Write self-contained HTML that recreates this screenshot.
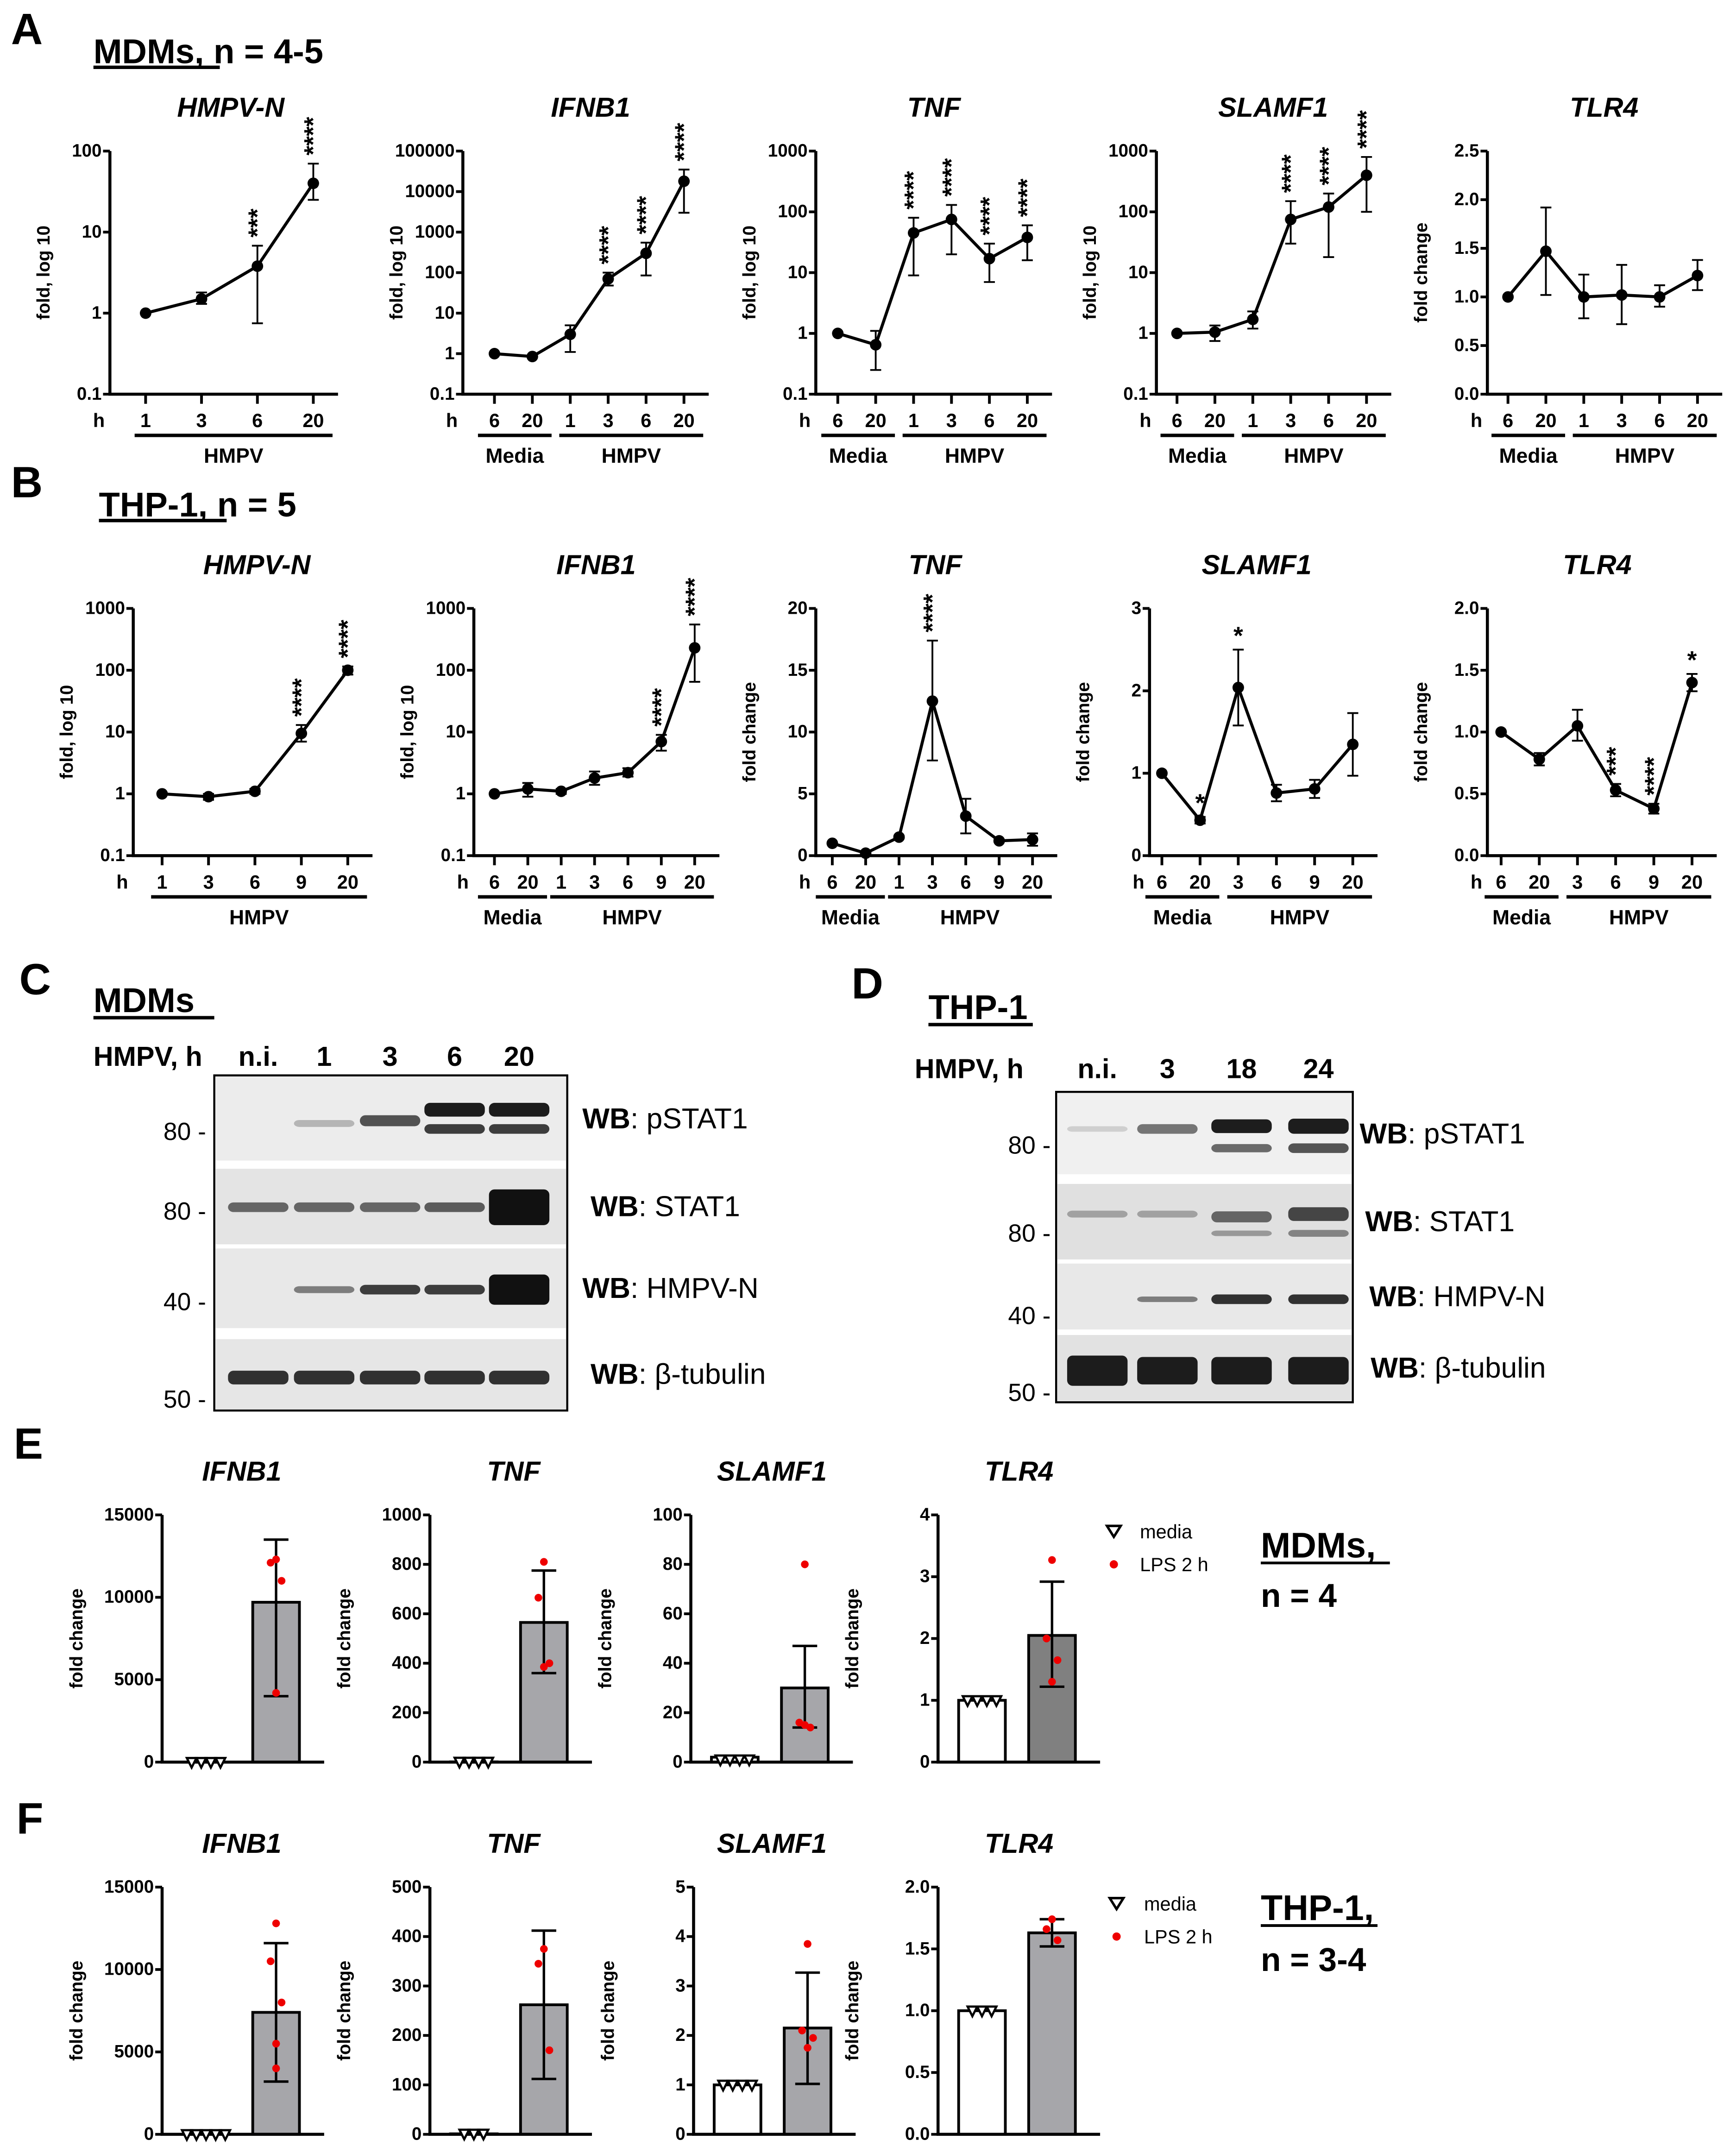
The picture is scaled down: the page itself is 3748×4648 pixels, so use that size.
<!DOCTYPE html>
<html><head><meta charset="utf-8"><style>
html,body{margin:0;padding:0;background:#fff}
svg{display:block}
text{font-family:"Liberation Sans",sans-serif}
</style></head><body>
<svg id="fig" xmlns="http://www.w3.org/2000/svg" width="3748" height="4648" viewBox="0 0 1264 1567.6">
<rect x="0" y="0" width="1264" height="1568" fill="#fff"/>
<g font-weight="bold" fill="#000">
<text x="8" y="32" font-size="32">A</text>
<text x="68" y="46" font-size="25">MDMs, n = 4-5</text>
<line x1="68" y1="49" x2="160" y2="49" stroke="#000" stroke-width="2.5"/>
<text x="8" y="362" font-size="32">B</text>
<text x="72" y="376" font-size="25">THP-1, n = 5</text>
<line x1="72" y1="379" x2="165" y2="379" stroke="#000" stroke-width="2.5"/>
<text x="14" y="724" font-size="32">C</text>
<text x="68" y="737" font-size="25">MDMs</text>
<line x1="68" y1="741" x2="156" y2="741" stroke="#000" stroke-width="2.5"/>
<text x="620" y="727" font-size="32">D</text>
<text x="676" y="742" font-size="25">THP-1</text>
<line x1="676" y1="746" x2="752" y2="746" stroke="#000" stroke-width="2.5"/>
<text x="10" y="1062" font-size="32">E</text>
<text x="12" y="1335" font-size="32">F</text>
<text x="918" y="1134" font-size="26">MDMs,</text>
<line x1="918" y1="1138" x2="1012" y2="1138" stroke="#000" stroke-width="2"/>
<text x="918" y="1170" font-size="24">n = 4</text>
<text x="918" y="1398" font-size="26">THP-1,</text>
<line x1="918" y1="1402" x2="1003" y2="1402" stroke="#000" stroke-width="2"/>
<text x="918" y="1435" font-size="24">n = 3-4</text>
</g>
<g id="legendE" font-size="14">
<polygon points="806,1111 816,1111 811,1119" fill="none" stroke="#000" stroke-width="1.8"/>
<text x="830" y="1120">media</text>
<circle cx="811" cy="1139" r="3" fill="#e00"/>
<text x="830" y="1144">LPS 2 h</text>
<polygon points="808,1382 818,1382 813,1390" fill="none" stroke="#000" stroke-width="1.8"/>
<text x="833" y="1391">media</text>
<circle cx="813" cy="1410" r="3" fill="#e00"/>
<text x="833" y="1415">LPS 2 h</text>
</g>
</svg>
<script>
// ---------- data ----------
const a1Cats=["1","3","6","20"];const a1Vals=[1,1.5,3.8,40];const a1Lo=[1,1.3,0.75,25];const a1Hi=[1,1.8,6.8,70];const a1Stars=["","","***","****"];
const a2Cats=["6","20","1","3","6","20"];const a2Vals=[1,0.85,3,70,300,18000];const a2Lo=[1,0.8,1.1,48,85,3000];const a2Hi=[1,0.9,5,100,550,35000];const a2Stars=["","","","****","****","****"];
const a3Cats=["6","20","1","3","6","20"];const a3Vals=[1,0.65,45,75,17,38];const a3Lo=[1,0.25,9,20,7,16];const a3Hi=[1,1.1,80,130,30,60];const a3Stars=["","","****","****","****","****"];
const a4Cats=["6","20","1","3","6","20"];const a4Vals=[1,1.05,1.7,75,120,400];const a4Lo=[1,0.75,1.2,30,18,100];const a4Hi=[1,1.35,2.3,150,200,800];const a4Stars=["","","","****","****","****"];
const a5Cats=["6","20","1","3","6","20"];const a5Vals=[1,1.47,1.0,1.02,1.0,1.22];const a5Lo=[1,1.02,0.78,0.72,0.9,1.07];const a5Hi=[1,1.92,1.23,1.33,1.12,1.38];const a5Stars=["","","","","",""];
const b1Cats=["1","3","6","9","20"];const b1Vals=[1,0.9,1.1,9.5,100];const b1Lo=[1,0.8,1.0,7,85];const b1Hi=[1,1.0,1.2,13,115];const b1Stars=["","","","****","****"];
const b2Cats=["6","20","1","3","6","9","20"];const b2Vals=[1,1.2,1.1,1.8,2.2,7,230];const b2Lo=[1,0.9,1,1.4,1.9,5,65];const b2Hi=[1,1.5,1.2,2.3,2.6,9,550];const b2Stars=["","","","","","****","****"];
const b3Cats=["6","20","1","3","6","9","20"];const b3Vals=[1,0.2,1.5,12.5,3.2,1.2,1.3];const b3Lo=[1,0.1,1.4,7.7,1.8,1.1,0.8];const b3Hi=[1,0.3,1.6,17.4,4.6,1.3,1.8];const b3Stars=["","","","****","","",""];
const b4Cats=["6","20","3","6","9","20"];const b4Vals=[1,0.43,2.04,0.76,0.81,1.35];const b4Lo=[1,0.39,1.58,0.66,0.7,0.97];const b4Hi=[1,0.47,2.5,0.86,0.92,1.73];const b4Stars=["","*","*","","",""];
const b5Cats=["6","20","3","6","9","20"];const b5Vals=[1,0.78,1.05,0.53,0.38,1.4];const b5Lo=[1,0.73,0.93,0.48,0.34,1.33];const b5Hi=[1,0.83,1.18,0.58,0.42,1.47];const b5Stars=["","","","***","****","*"];
const logTicks4=["0.1","1","10","100"];const logTicks5=["0.1","1","10","100","1000"];const logTicks7=["0.1","1","10","100","1000","10000","100000"];
const a5Ticks=["0.0","0.5","1.0","1.5","2.0","2.5"];const b3Ticks=["0","5","10","15","20"];const b4Ticks=["0","1","2","3"];const b5Ticks=["0.0","0.5","1.0","1.5","2.0"];
// bar data
const e1Media=[1,1,1,1];const e1Lps=[12300,12100,11000,4200];const e1Mean=[1,9700];const e1Err=[4000,13500];const e1Ticks=["0","5000","10000","15000"];
const e2Media=[1,1,1,1];const e2Lps=[810,665,400,385];const e2Mean=[1,565];const e2Err=[360,775];const e2Ticks=["0","200","400","600","800","1000"];
const e3Media=[1,1,1,1];const e3Lps=[80,16,14,15];const e3Mean=[2,30];const e3Err=[14,47];const e3Ticks=["0","20","40","60","80","100"];
const e4Media=[1,1,1,1];const e4Lps=[3.27,2.0,1.65,1.3];const e4Mean=[1,2.05];const e4Err=[1.22,2.92];const e4Ticks=["0","1","2","3","4"];
const f1Media=[1,1,1,1,1];const f1Lps=[12800,10500,8000,5500,4000];const f1Mean=[1,7400];const f1Err=[3200,11600];const f1Ticks=["0","5000","10000","15000"];
const f2Media=[1,1,1];const f2Lps=[375,345,170];const f2Mean=[1,262];const f2Err=[112,412];const f2Ticks=["0","100","200","300","400","500"];
const f3Media=[1,1,1,1];const f3Lps=[3.85,2.1,1.95,1.75];const f3Mean=[1,2.15];const f3Err=[1.02,3.27];const f3Ticks=["0","1","2","3","4","5"];
const f4Media=[1,1,1];const f4Lps=[1.74,1.66,1.57];const f4Mean=[1,1.63];const f4Err=[1.52,1.74];const f4Ticks=["0.0","0.5","1.0","1.5","2.0"];

const NS="http://www.w3.org/2000/svg";const svg=document.getElementById('fig');
function mk(tag,a,txt,parent){const e=document.createElementNS(NS,tag);for(const k in a)e.setAttribute(k,a[k]);if(txt!=null)e.textContent=txt;(parent||svg).appendChild(e);return e;}
const COND='font-family:"Liberation Sans Narrow","Liberation Sans",sans-serif';

function lineChart(c){
  const g=mk('g',{});
  
  
  const lg=v=>Math.log10(v);
  const ys=v=>c.log? c.bot-(lg(v)-lg(c.min))/(lg(c.max)-lg(c.min))*(c.bot-c.top) : c.bot-(v-c.min)/(c.max-c.min)*(c.bot-c.top);
  const xs=i=>c.x0+i*c.step;
  let t=mk('text',{x:c.cx,y:c.top-25,'text-anchor':'middle','font-size':20,'font-weight':'bold','font-style':'italic'},c.title,g);
  
  
  const xe=xs(c.cats.length-1)+18;
  let ax=mk('path',{d:`M${c.ax},${c.top} V${c.bot} H${xe}`,fill:'none',stroke:'#000','stroke-width':2.2},null,g);
  
  
  c.ticks.forEach((lab,i)=>{const v=parseFloat(lab);const y=ys(v);
    let tk=mk('line',{x1:c.ax-5,x2:c.ax,y1:y,y2:y,stroke:'#000','stroke-width':2},null,g);
    
    
    let tl=mk('text',{x:c.ax-6,y:y+4,'text-anchor':'end','font-size':13,'font-weight':'bold',style:COND},lab,g);
    
    });
  let yt=mk('text',{transform:`translate(${c.ax-44},${(c.top+c.bot)/2}) rotate(-90)`,'text-anchor':'middle','font-size':13,'font-weight':'bold'},c.ytitle,g);
  
  
  let h=mk('text',{x:c.ax-8,y:c.bot+24,'text-anchor':'middle','font-size':14,'font-weight':'bold',style:COND},'h',g);
  
  
  c.cats.forEach((lab,i)=>{const x=xs(i);
    let tk=mk('line',{x1:x,x2:x,y1:c.bot,y2:c.bot+7,stroke:'#000','stroke-width':2},null,g);
    
    
    let tl=mk('text',{x:x,y:c.bot+24,'text-anchor':'middle','font-size':14,'font-weight':'bold',style:COND},lab,g);
    
    });
  const gy=c.bot+30;
  c.groups.forEach(gr=>{const x1=xs(gr[1])-(gr[0]=='Media'?12:8),x2=xs(gr[2])+14;
    let l=mk('line',{x1:x1,x2:x2,y1:gy,y2:gy,stroke:'#000','stroke-width':2.5},null,g);
    
    
    let gt=mk('text',{x:(x1+x2)/2,y:gy+20,'text-anchor':'middle','font-size':15,'font-weight':'bold'},gr[0],g);
    
    });
  let d='';c.vals.forEach((v,i)=>{d+=(i?'L':'M')+xs(i)+','+ys(v)+' ';});
  let ln=mk('path',{d:d,fill:'none',stroke:'#000','stroke-width':2.2},null,g);
  
  
  c.vals.forEach((v,i)=>{const x=xs(i);const yl=ys(c.lo[i]),yh=ys(c.hi[i]);
    if(Math.abs(yl-yh)>1){let eb=mk('path',{d:`M${x},${yl} V${yh} M${x-4},${yl} H${x+4} M${x-4},${yh} H${x+4}`,stroke:'#000','stroke-width':1.3,fill:'none'},null,g);
      
      }
    let p=mk('circle',{cx:x,cy:ys(v),r:4.2,fill:'#000'},null,g);
    
    
    const s=c.stars[i];
    if(s){let st;
      if(s.length>1){st=mk('text',{transform:`translate(${x+6},${yh-6}) rotate(-90)`,'font-size':18,'font-weight':'bold'},s,g);}
      else{st=mk('text',{x:x,y:yh-4,'text-anchor':'middle','font-size':18,'font-weight':'bold'},s,g);}
      
      }
  });
}
const G2=[["Media",0,1],["HMPV",2,5]],G3=[["Media",0,1],["HMPV",2,6]];
const LA={top:110,bot:287},LB={top:443,bot:623};
lineChart({name:'a-hmpvn-chart',title:'HMPV-N',cx:168,ax:80,x0:106,step:40.7,...LA,log:1,min:0.1,max:100,ticks:logTicks4,ytitle:'fold, log 10',cats:a1Cats,vals:a1Vals,lo:a1Lo,hi:a1Hi,stars:a1Stars,groups:[["HMPV",0,3]]});
lineChart({name:'a-ifnb1-chart',title:'IFNB1',cx:430,ax:337,x0:360,step:27.6,...LA,log:1,min:0.1,max:100000,ticks:logTicks7,ytitle:'fold, log 10',cats:a2Cats,vals:a2Vals,lo:a2Lo,hi:a2Hi,stars:a2Stars,groups:G2});
lineChart({name:'a-tnf-chart',title:'TNF',cx:680,ax:594,x0:610,step:27.6,...LA,log:1,min:0.1,max:1000,ticks:logTicks5,ytitle:'fold, log 10',cats:a3Cats,vals:a3Vals,lo:a3Lo,hi:a3Hi,stars:a3Stars,groups:G2});
lineChart({name:'a-slamf1-chart',title:'SLAMF1',cx:927,ax:842,x0:857,step:27.6,...LA,log:1,min:0.1,max:1000,ticks:logTicks5,ytitle:'fold, log 10',cats:a4Cats,vals:a4Vals,lo:a4Lo,hi:a4Hi,stars:a4Stars,groups:G2});
lineChart({name:'a-tlr4-chart',title:'TLR4',cx:1168,ax:1083,x0:1098,step:27.6,...LA,log:0,min:0,max:2.5,ticks:a5Ticks,ytitle:'fold change',cats:a5Cats,vals:a5Vals,lo:a5Lo,hi:a5Hi,stars:a5Stars,groups:G2});
lineChart({name:'b-hmpvn-chart',title:'HMPV-N',cx:187,ax:97,x0:118,step:33.8,...LB,log:1,min:0.1,max:1000,ticks:logTicks5,ytitle:'fold, log 10',cats:b1Cats,vals:b1Vals,lo:b1Lo,hi:b1Hi,stars:b1Stars,groups:[["HMPV",0,4]]});
lineChart({name:'b-ifnb1-chart',title:'IFNB1',cx:434,ax:345,x0:360,step:24.3,...LB,log:1,min:0.1,max:1000,ticks:logTicks5,ytitle:'fold, log 10',cats:b2Cats,vals:b2Vals,lo:b2Lo,hi:b2Hi,stars:b2Stars,groups:G3});
lineChart({name:'b-tnf-chart',title:'TNF',cx:681,ax:594,x0:606,step:24.3,...LB,log:0,min:0,max:20,ticks:b3Ticks,ytitle:'fold change',cats:b3Cats,vals:b3Vals,lo:b3Lo,hi:b3Hi,stars:b3Stars,groups:G3});
lineChart({name:'b-slamf1-chart',title:'SLAMF1',cx:915,ax:837,x0:846,step:27.8,...LB,log:0,min:0,max:3,ticks:b4Ticks,ytitle:'fold change',cats:b4Cats,vals:b4Vals,lo:b4Lo,hi:b4Hi,stars:b4Stars,groups:G2});
lineChart({name:'b-tlr4-chart',title:'TLR4',cx:1163,ax:1083,x0:1093,step:27.8,...LB,log:0,min:0,max:2,ticks:b5Ticks,ytitle:'fold change',cats:b5Cats,vals:b5Vals,lo:b5Lo,hi:b5Hi,stars:b5Stars,groups:G2});

function barChart(c){
  const g=mk('g',{});
  
  
  const max=parseFloat(c.ticks[c.ticks.length-1]);
  const ys=v=>c.bot-v/max*(c.bot-c.top);
  let t=mk('text',{x:c.cx,y:c.top-25,'text-anchor':'middle','font-size':20,'font-weight':'bold','font-style':'italic'},c.title,g);
  
  
  const xm=c.ax+32,xl=c.ax+83,bw=34;
  c.ticks.forEach(lab=>{const y=ys(parseFloat(lab));
    let tk=mk('line',{x1:c.ax-5,x2:c.ax,y1:y,y2:y,stroke:'#000','stroke-width':2},null,g);
    
    
    let tl=mk('text',{x:c.ax-6,y:y+4,'text-anchor':'end','font-size':13,'font-weight':'bold',style:COND},lab,g);
    
    });
  let yt=mk('text',{transform:`translate(${c.ax-58},${(c.top+c.bot)/2}) rotate(-90)`,'text-anchor':'middle','font-size':13,'font-weight':'bold'},'fold change',g);
  
  
  [[xm,c.mean[0],'#fff'],[xl,c.mean[1],c.fill]].forEach((b,i)=>{const y=ys(b[1]);
    let r=mk('rect',{x:b[0]-bw/2,y:y,width:bw,height:c.bot-y,fill:b[2],stroke:'#000','stroke-width':2},null,g);
    
    });
  const x=xl,yl=ys(c.err[0]),yh=ys(c.err[1]);
  let eb=mk('path',{d:`M${x},${yl} V${yh} M${x-9},${yl} H${x+9} M${x-9},${yh} H${x+9}`,stroke:'#000','stroke-width':1.8,fill:'none'},null,g);
  
  
  let ax=mk('path',{d:`M${c.ax},${c.top} V${c.bot} H${c.ax+118}`,fill:'none',stroke:'#000','stroke-width':2.2},null,g);
  
  
  const n=c.media.length;
  c.media.forEach((v,i)=>{const px=xm-(n-1)*3.5+i*7,py=ys(v);
    let tr=mk('polygon',{points:`${px-3.5},${py-3} ${px+3.5},${py-3} ${px},${py+4}`,fill:'#fff',stroke:'#000','stroke-width':1.6},null,g);
    
    });
  c.lps.forEach((v,i)=>{const off=[0,-4,4,0,0][i%5]*(c.jit||1);
    let d=mk('circle',{cx:x+off,cy:ys(v),r:2.8,fill:'#e00'},null,g);
    
    });
}
const BE={top:1103,bot:1283},BF={top:1374,bot:1554};
barChart({name:'e-ifnb1-chart',title:'IFNB1',cx:176,ax:118,...BE,ticks:e1Ticks,media:e1Media,lps:e1Lps,mean:e1Mean,err:e1Err,fill:'#a6a6aa'});
barChart({name:'e-tnf-chart',title:'TNF',cx:374,ax:313,...BE,ticks:e2Ticks,media:e2Media,lps:e2Lps,mean:e2Mean,err:e2Err,fill:'#a6a6aa'});
barChart({name:'e-slamf1-chart',title:'SLAMF1',cx:562,ax:503,...BE,ticks:e3Ticks,media:e3Media,lps:e3Lps,mean:e3Mean,err:e3Err,fill:'#a6a6aa'});
barChart({name:'e-tlr4-chart',title:'TLR4',cx:742,ax:683,...BE,ticks:e4Ticks,media:e4Media,lps:e4Lps,mean:e4Mean,err:e4Err,fill:'#808080'});
barChart({name:'f-ifnb1-chart',title:'IFNB1',cx:176,ax:118,...BF,ticks:f1Ticks,media:f1Media,lps:f1Lps,mean:f1Mean,err:f1Err,fill:'#a6a6aa'});
barChart({name:'f-tnf-chart',title:'TNF',cx:374,ax:313,...BF,ticks:f2Ticks,media:f2Media,lps:f2Lps,mean:f2Mean,err:f2Err,fill:'#a6a6aa'});
barChart({name:'f-slamf1-chart',title:'SLAMF1',cx:562,ax:505,...BF,ticks:f3Ticks,media:f3Media,lps:f3Lps,mean:f3Mean,err:f3Err,fill:'#a6a6aa'});
barChart({name:'f-tlr4-chart',title:'TLR4',cx:742,ax:683,...BF,ticks:f4Ticks,media:f4Media,lps:f4Lps,mean:f4Mean,err:f4Err,fill:'#a6a6aa'});

// ---------- western blots ----------
function blot(b){
  const g=mk('g',{});
  
  
  let h=mk('text',{x:b.hx,y:b.hy,'font-size':20,'font-weight':'bold'},'HMPV, h',g);
  
  
  b.lanes.forEach((l,i)=>{let t=mk('text',{x:b.lx[i],y:b.hy,'text-anchor':'middle','font-size':20,'font-weight':'bold'},l,g);
    
    });
  let box=mk('rect',{x:b.x,y:b.y,width:b.w,height:b.h,fill:'#fff',stroke:'#000','stroke-width':1.5},null,g);
  
  
  b.panels.forEach((p,pi)=>{
    let r=mk('rect',{x:b.x+1,y:p.y,width:b.w-2,height:p.h,fill:p.bg},null,g);
    
    
    p.bands.forEach((bd,i)=>{if(!bd)return;
      bd.forEach(q=>{let e=mk('rect',{x:b.lx[i]-22,y:p.y+q[0]-q[1]/2,width:44,height:q[1],rx:4,fill:'#111',opacity:q[2]},null,g);
        
        });});
    let mw=mk('text',{x:b.mwx,y:p.mwy,'text-anchor':'end','font-size':18},p.mw+' -',g);
    
    
    let wb=mk('text',{x:b.wbx[pi],y:p.y+p.h/2+7,'font-size':21},null,g);
    
    
    mk('tspan',{'font-weight':'bold'},'WB',wb);mk('tspan',{},': '+p.ab,wb);
  });
}
blot({name:'blot-mdms',hx:68,hy:776,lanes:['n.i.','1','3','6','20'],lx:[188,236,284,331,378],x:156,y:783,w:257,h:244,mwx:150,wbx:[424,430,424,430],
  panels:[{y:784,h:61,bg:'#ececec',mw:80,mwy:830,ab:'pSTAT1',bands:[null,[[34,5,.25]],[[32,8,.7]],[[24,10,.95],[38,7,.8]],[[24,10,.95],[38,7,.8]]]},
  {y:851,h:55,bg:'#e4e4e4',mw:80,mwy:888,ab:'STAT1',bands:[[[28,7,.6]],[[28,7,.6]],[[28,7,.6]],[[28,7,.65]],[[28,26,1]]]}, 
  {y:909,h:58,bg:'#e8e8e8',mw:40,mwy:954,ab:'HMPV-N',bands:[null,[[30,5,.5]],[[30,7,.8]],[[30,7,.8]],[[30,22,1]]]},
  {y:975,h:51,bg:'#e6e6e6',mw:50,mwy:1025,ab:'β-tubulin',bands:[[[28,10,.85]],[[28,10,.85]],[[28,10,.85]],[[28,10,.85]],[[28,10,.85]]]}]});
blot({name:'blot-thp1',hx:666,hy:785,lanes:['n.i.','3','18','24'],lx:[799,850,904,960],x:769,y:795,w:216,h:226,mwx:765,wbx:[990,994,997,998],
  panels:[{y:796,h:59,bg:'#f0f0f0',mw:80,mwy:840,ab:'pSTAT1',bands:[[[26,4,.15]],[[26,7,.55]],[[24,10,.95],[40,6,.6]],[[24,11,.95],[40,7,.7]]]},
  {y:862,h:55,bg:'#e0e0e0',mw:80,mwy:904,ab:'STAT1',bands:[[[22,5,.3]],[[22,5,.3]],[[24,8,.6],[36,4,.35]],[[22,10,.75],[36,5,.45]]]},
  {y:920,h:48,bg:'#e8e8e8',mw:40,mwy:964,ab:'HMPV-N',bands:[null,[[26,4,.5]],[[26,7,.85]],[[26,7,.85]]]},
  {y:972,h:48,bg:'#e2e2e2',mw:50,mwy:1020,ab:'β-tubulin',bands:[[[26,22,.95]],[[26,20,.95]],[[26,20,.95]],[[26,20,.95]]]}]});
</script>
</body></html>
